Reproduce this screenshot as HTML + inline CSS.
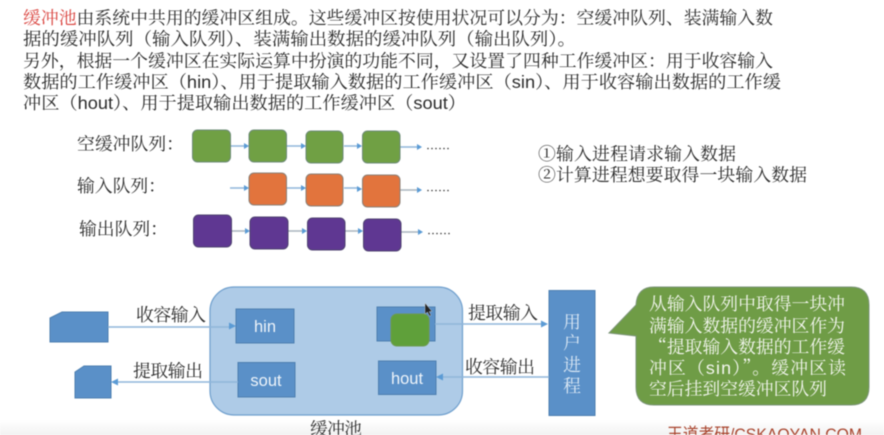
<!DOCTYPE html>
<html><head><meta charset="utf-8">
<style>
html,body{margin:0;padding:0;background:#fff;width:884px;height:435px;overflow:hidden}
svg{display:block;filter:blur(0.5px)}
text{font-family:"Noto Serif CJK SC","Liberation Serif",serif;font-size:17.85px;fill:#2b2b2b}
.l{font-family:"Liberation Sans","DejaVu Sans",sans-serif}
.w{fill:#f4f7f0}
.box{fill:#5a90c8;stroke:#4d7fb0;stroke-width:1}
.lbl{font-family:"Liberation Sans","DejaVu Sans",sans-serif;font-size:16.5px;fill:#eef4fa;text-anchor:middle}
.ln{stroke:#8fb6da;stroke-width:1.4;fill:none}
.gl{stroke:#a9b4bd;stroke-width:1.4;fill:none}
.g{fill:#70a044;stroke:#6d8a78;stroke-width:1}
.o{fill:#e2743d;stroke:#8a8078;stroke-width:1}
.p{fill:#5f3792;stroke:#4e4270;stroke-width:1}
</style></head>
<body>
<svg width="884" height="435" viewBox="0 0 884 435" xmlns="http://www.w3.org/2000/svg">
<defs><linearGradient id="bg" x1="0" y1="0" x2="0" y2="1"><stop offset="0" stop-color="#fff"/><stop offset="1" stop-color="#f2f2f2"/></linearGradient></defs>
<rect width="884" height="435" fill="#fff"/>
<rect y="420" width="884" height="15" fill="url(#bg)"/>

<text x="23" y="24" textLength="750" lengthAdjust="spacingAndGlyphs"><tspan fill="#d9413c">缓冲池</tspan>由系统中共用的缓冲区组成。这些缓冲区按使用状况可以分为&#xFF1A;空缓冲队列、装满输入数</text>
<text x="23" y="45" textLength="553" lengthAdjust="spacingAndGlyphs">据的缓冲队列&#xFF08;输入队列&#xFF09;、装满输出数据的缓冲队列&#xFF08;输出队列&#xFF09;。</text>
<text x="23" y="67" textLength="750" lengthAdjust="spacingAndGlyphs">另外&#xFF0C;根据一个缓冲区在实际运算中扮演的功能不同&#xFF0C;又设置了四种工作缓冲区&#xFF1A;用于收容输入</text>
<text x="23" y="88" textLength="758" lengthAdjust="spacingAndGlyphs">数据的工作缓冲区&#xFF08;<tspan class="l">hin</tspan>&#xFF09;、用于提取输入数据的工作缓冲区&#xFF08;<tspan class="l">sin</tspan>&#xFF09;、用于收容输出数据的工作缓</text>
<text x="23" y="109" textLength="443" lengthAdjust="spacingAndGlyphs">冲区&#xFF08;<tspan class="l">hout</tspan>&#xFF09;、用于提取输出数据的工作缓冲区&#xFF08;<tspan class="l">sout</tspan>&#xFF09;</text>

<text x="77" y="150" textLength="107">空缓冲队列&#xFF1A;</text>
<text x="77" y="192" textLength="89">输入队列&#xFF1A;</text>
<text x="79" y="235" textLength="89">输出队列&#xFF1A;</text>

<path class="ln" d="M230 146H245M287 146H302M344 146H358"/>
<path class="ln" d="M400 147H418"/>
<path class="ln" d="M230 188H245M287 188H302M344 188H358"/>
<path class="gl" d="M400 190H418"/>
<path class="gl" d="M232 231H246M288 231H303M345 231H359M401 232H419"/>
<g fill="#5b9bd5">
<path d="M249 146l-5-3v6zM306 146l-5-3v6zM362 146l-5-3v6zM422 147l-5-3v6z"/>
<path d="M249 188l-5-3v6zM306 188l-5-3v6zM362 189l-5-3v6zM422 190l-5-3v6z"/>
<path d="M250 231l-5-3v6zM307 231l-5-3v6zM363 231l-5-3v6zM423 232l-5-3v6z"/>
</g>

<rect class="g" x="192.500" y="130" width="38" height="32" rx="5"/>
<rect class="g" x="249" y="130" width="37.500" height="32" rx="5"/>
<rect class="g" x="306" y="131" width="37" height="32" rx="5"/>
<rect class="g" x="362.500" y="131" width="37.500" height="32" rx="5"/>
<rect class="o" x="249" y="173" width="37.500" height="32" rx="5"/>
<rect class="o" x="306" y="174" width="37" height="32" rx="5"/>
<rect class="o" x="362.500" y="175" width="37.500" height="32" rx="5"/>
<rect class="p" x="193.500" y="215" width="38" height="32" rx="5"/>
<rect class="p" x="250" y="217" width="38" height="32" rx="5"/>
<rect class="p" x="307.500" y="218" width="37.500" height="32" rx="5"/>
<rect class="p" x="363.500" y="219" width="37.500" height="32" rx="5"/>

<g fill="#333"><circle cx="428" cy="148.500" r=".8"/><circle cx="432" cy="148.500" r=".8"/><circle cx="436" cy="148.500" r=".8"/><circle cx="440" cy="148.500" r=".8"/><circle cx="444" cy="148.500" r=".8"/><circle cx="448" cy="148.500" r=".8"/>
<circle cx="428" cy="190.500" r=".8"/><circle cx="432" cy="190.500" r=".8"/><circle cx="436" cy="190.500" r=".8"/><circle cx="440" cy="190.500" r=".8"/><circle cx="444" cy="190.500" r=".8"/><circle cx="448" cy="190.500" r=".8"/>
<circle cx="429" cy="233.500" r=".8"/><circle cx="433" cy="233.500" r=".8"/><circle cx="437" cy="233.500" r=".8"/><circle cx="441" cy="233.500" r=".8"/><circle cx="445" cy="233.500" r=".8"/><circle cx="449" cy="233.500" r=".8"/></g>

<text x="538" y="160" textLength="198">①输入进程请求输入数据</text>
<text x="538" y="181" textLength="269">②计算进程想要取得一块输入数据</text>

<rect x="210" y="287" width="252.500" height="128" rx="24" fill="#aecbe7" stroke="#6f9fcd" stroke-width="1.2"/>

<path class="box" d="M50 318L62 312H108V342H50Z"/>
<path class="box" d="M75 372L84 366H111V398H75Z"/>

<rect class="box" x="236" y="309" width="58" height="34"/>
<rect class="box" x="238" y="362.500" width="57" height="34.500"/>
<rect class="box" x="377" y="307" width="58" height="34"/>
<rect x="391" y="314" width="38" height="32" rx="6" fill="#5fa03a" stroke="#6d9a50"/>
<rect class="box" x="378.500" y="361" width="57.500" height="33.500"/>
<rect class="box" x="549" y="290.500" width="46" height="125"/>

<text class="lbl" x="265" y="332">hin</text>
<text class="lbl" x="266" y="386">sout</text>
<text class="lbl" x="407" y="384">hout</text>

<path class="ln" d="M108 327H232M238 382H115M435 324H544M549 377H440"/>
<g fill="#5b9bd5"><path d="M236 326l-7-3.500v7zM111 382l7-3.500v7zM548 324l-7-3.500v7zM436 377l7-3.500v7z"/></g>

<text x="136" y="321" textLength="70">收容输入</text>
<text x="133" y="377" textLength="70">提取输出</text>
<text x="468" y="319" textLength="70">提取输入</text>
<text x="465" y="373" textLength="70">收容输出</text>

<g text-anchor="middle">
<text x="572" y="328" style="fill:#dbe8f5">用</text>
<text x="572" y="349" style="fill:#dbe8f5">户</text>
<text x="572" y="371" style="fill:#dbe8f5">进</text>
<text x="572" y="392" style="fill:#dbe8f5">程</text>
</g>

<text x="310" y="435" textLength="52">缓冲池</text>

<path d="M654 287H851Q869 287 869 305V387Q869 405 851 405H654Q636 405 636 387V336L609 333L636 305Q637 287 654 287Z" fill="#6f9c46" stroke="#7b9478" stroke-width="1"/>
<text class="w" x="649" y="310" textLength="196">从输入队列中取得一块冲</text>
<text class="w" x="649" y="332" textLength="196">满输入数据的缓冲区作为</text>
<text class="w" x="649" y="353" textLength="196">&#x201C;提取输入数据的工作缓</text>
<text class="w" x="649" y="374" textLength="197">冲区&#xFF08;<tspan class="l">sin</tspan>&#xFF09;&#x201D;。缓冲区读</text>
<text class="w" x="649" y="395" textLength="178">空后挂到空缓冲区队列</text>

<text x="667" y="440" textLength="195" lengthAdjust="spacingAndGlyphs" style="fill:#a8432c;font-size:17px;font-family:'Liberation Sans','Noto Sans CJK SC',sans-serif">王道考研/CSKAOYAN.COM</text>

<path d="M425 303V314L427.500 312L429.500 316L431 315.300L429.200 311.500H432Z" fill="#222" stroke="#ddd" stroke-width=".4"/>
</svg>
</body></html>
